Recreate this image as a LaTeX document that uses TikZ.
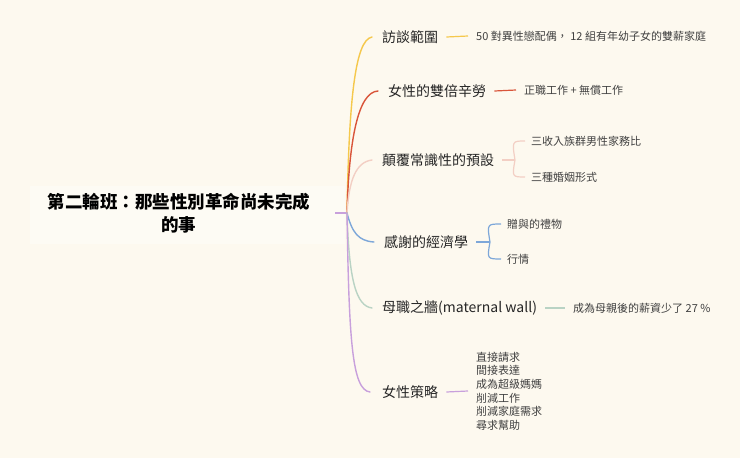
\documentclass[tikz,border=0pt]{standalone}
\usepackage{fontspec}
\setmainfont{Noto Sans CJK TC}
\begin{document}
\begin{tikzpicture}[x=1pt,y=-1pt,
  br/.style={anchor=west,inner sep=0pt,font=\fontsize{14}{16}\selectfont,text=black!85},
  lf/.style={anchor=west,inner sep=0pt,font=\fontsize{11}{13.6}\selectfont,text=black!75},
  cv/.style={line width=1.4pt,line cap=round}]
\definecolor{bg}{HTML}{FDF9EF}
\definecolor{cY}{HTML}{F5C84C}
\definecolor{cR}{HTML}{D9553A}
\definecolor{cP}{HTML}{F3CFC4}
\definecolor{cB}{HTML}{7DA7D9}
\definecolor{cG}{HTML}{B9D3C4}
\definecolor{cV}{HTML}{C8A0DC}
\fill[bg] (0,0) rectangle (740,458);
\fill[white,opacity=0.35] (30,186) rectangle (345,244);
\node[align=center,inner sep=0pt,font=\fontsize{17.5}{23}\selectfont\bfseries] (root) at (179,213) {第二輪班：那些性別革命尚未完成\\的事};
\coordinate (hub) at (347,213);
\draw[cV,line width=1.4pt] (335,213) -- (hub);
% branches
\node[br] (b1) at (382,37) {訪談範圍};
\node[br] (b2) at (388,91) {女性的雙倍辛勞};
\node[br] (b3) at (382,160) {顛覆常識性的預設};
\node[br] (b4) at (384,242) {感謝的經濟學};
\node[br] (b5) at (382,308) {母職之牆(maternal wall)};
\node[br] (b6) at (382,392) {女性策略};
\draw[cv,cY] (hub) .. controls (349,100) and (355,40) .. ([xshift=-10pt]b1.west);
\draw[cv,cR] (hub) .. controls (349,140) and (358,92) .. ([xshift=-10pt]b2.west);
\draw[cv,cP] (hub) .. controls (349,180) and (356,162) .. ([xshift=-10pt]b3.west);
\draw[cv,cB] (hub) .. controls (352,232) and (358,241) .. ([xshift=-10pt]b4.west);
\draw[cv,cG] (hub) .. controls (349,280) and (356,306) .. ([xshift=-10pt]b5.west);
\draw[cv,cV] (hub) .. controls (349,340) and (352,390) .. ([xshift=-12pt]b6.west);
% leaves
\node[lf] (l1) at (476,36) {50 對異性戀配偶， 12 組有年幼子女的雙薪家庭};
\draw[cY,line width=1.2pt] ([xshift=8pt]b1.east) -- ([xshift=-8pt]l1.west);
\node[lf] (l2) at (524,90) {正職工作 + 無償工作};
\draw[cR,line width=1.2pt] ([xshift=8pt]b2.east) -- ([xshift=-8pt]l2.west);
\node[lf] (l3a) at (531,141) {三收入族群男性家務比};
\node[lf] (l3b) at (531,177) {三種婚姻形式};
\coordinate (k3) at (515,160);
\draw[cP,line width=1.2pt] ([xshift=8pt]b3.east) -- (k3);
\draw[cP,line width=1.2pt] (k3) .. controls (512,141) .. ([xshift=-6pt]l3a.west);
\draw[cP,line width=1.2pt] (k3) .. controls (512,177) .. ([xshift=-6pt]l3b.west);
\node[lf] (l4a) at (507,224) {贈與的禮物};
\node[lf] (l4b) at (507,259) {行情};
\coordinate (k4) at (490,242);
\draw[cB,line width=1.2pt] ([xshift=8pt]b4.east) -- (k4);
\draw[cB,line width=1.2pt] (k4) .. controls (487,224) .. ([xshift=-6pt]l4a.west);
\draw[cB,line width=1.2pt] (k4) .. controls (487,259) .. ([xshift=-6pt]l4b.west);
\node[lf] (l5) at (573,308) {成為母親後的薪資少了 27 \%};
\draw[cG,line width=1.2pt] ([xshift=8pt]b5.east) -- ([xshift=-8pt]l5.west);
\node[lf,align=left] (l6) at (476,391) {直接請求\\間接表達\\成為超級媽媽\\削減工作\\削減家庭需求\\尋求幫助};
\draw[cV,line width=1.2pt] ([xshift=8pt]b6.east) -- ([xshift=-8pt]l6.west);
\end{tikzpicture}
\end{document}
